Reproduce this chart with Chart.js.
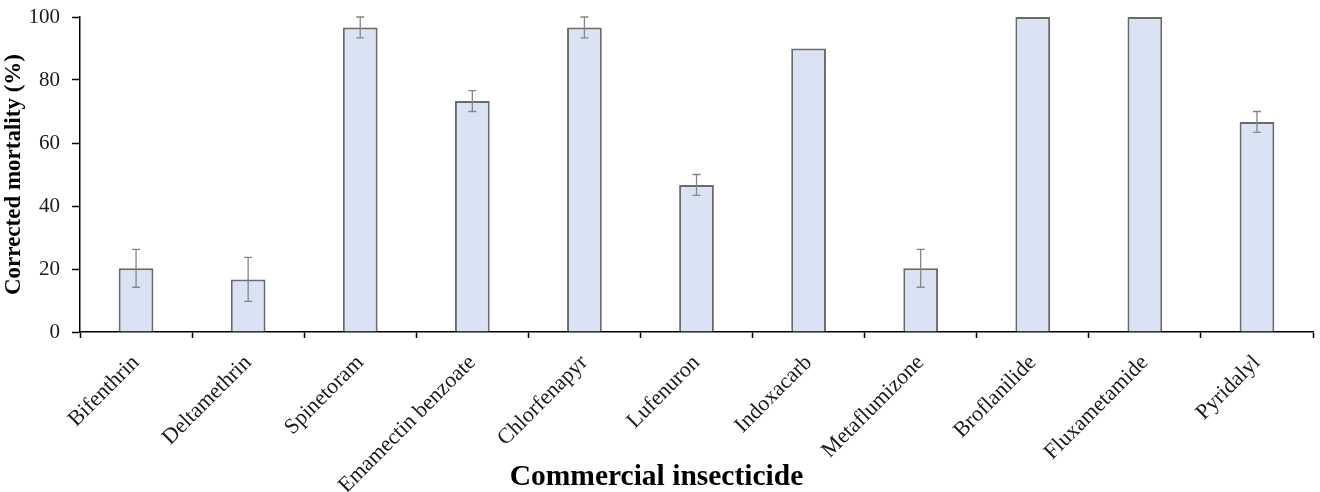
<!DOCTYPE html>
<html>
<head>
<meta charset="utf-8">
<title>Corrected mortality by commercial insecticide</title>
<script src="https://cdn.jsdelivr.net/npm/chart.js@4"></script>
<style>
  html, body { margin: 0; padding: 0; background: #fff; }
  .wrap { width: 1320px; height: 492px; }
</style>
</head>
<body>
<div class="wrap"><canvas id="mortalityChart"></canvas></div>
<script>
const categories = [
  "Bifenthrin", "Deltamethrin", "Spinetoram", "Emamectin benzoate", "Chlorfenapyr",
  "Lufenuron", "Indoxacarb", "Metaflumizone", "Broflanilide", "Fluxametamide", "Pyridalyl"
];
const mortality = [20.2, 16.7, 96.7, 73.3, 96.7, 46.7, 90, 20.2, 100, 100, 66.7];
const errors = [6, 7, 3.3, 3.3, 3.3, 3.3, 0, 6, 0, 0, 3.3];
const yTicks = [0, 20, 40, 60, 80, 100];

const serif = "'Liberation Serif', 'Times New Roman', serif";

// whiskers for the standard error, drawn from the y scale
const errorBars = {
  id: "errorBars",
  afterDatasetsDraw(chart) {
    const { ctx, scales } = chart;
    const meta = chart.getDatasetMeta(0);
    ctx.save();
    ctx.strokeStyle = "#858585";
    ctx.lineWidth = 1.3;
    meta.data.forEach((bar, i) => {
      const err = errors[i];
      if (!err) return;
      const top = scales.y.getPixelForValue(mortality[i] + err);
      const bottom = scales.y.getPixelForValue(mortality[i] - err);
      const x = bar.x;
      ctx.beginPath();
      ctx.moveTo(x, top);
      ctx.lineTo(x, bottom);
      ctx.moveTo(x - 4, top);
      ctx.lineTo(x + 4, top);
      ctx.moveTo(x - 4, bottom);
      ctx.lineTo(x + 4, bottom);
      ctx.stroke();
    });
    ctx.restore();
  }
};

// long rotated names run down past the axis box, like the original figure
const looseLabels = {
  id: "looseLabels",
  afterLayout(chart) {
    chart.scales.x.bottom = chart.height;
  }
};

new Chart(document.getElementById("mortalityChart"), {
  type: "bar",
  data: {
    labels: categories,
    datasets: [{
      label: "Corrected mortality (%)",
      data: mortality,
      backgroundColor: "#dae3f3",
      borderColor: "#6a6a6a",
      borderWidth: 2,
      barPercentage: 0.31,
      categoryPercentage: 1
    }]
  },
  options: {
    responsive: true,
    maintainAspectRatio: false,
    animation: false,
    layout: {
      padding: { top: 17, right: 7, left: 0, bottom: 0 }
    },
    plugins: {
      legend: { display: false },
      tooltip: { enabled: false },
      title: {
        display: true,
        position: "bottom",
        text: "Commercial insecticide",
        color: "#000",
        font: { family: serif, size: 29.5, weight: "bold", lineHeight: 1 },
        padding: { top: 8, bottom: 0 }
      }
    },
    scales: {
      x: {
        grid: {
          offset: true,
          drawOnChartArea: false,
          tickLength: 6,
          tickColor: "#000",
          tickWidth: 1.5
        },
        border: { color: "#000", width: 1.5 },
        ticks: {
          color: "#1a1a1a",
          font: { family: serif, size: 22 },
          minRotation: 45,
          maxRotation: 45,
          autoSkip: false,
          padding: 12
        },
        afterFit(scale) {
          scale.height = 122.5;
        }
      },
      y: {
        min: 0,
        max: 100,
        afterBuildTicks(scale) {
          scale.ticks = yTicks.map((value) => ({ value }));
        },
        grid: {
          drawOnChartArea: false,
          tickLength: 8,
          tickColor: "#000",
          tickWidth: 1.5
        },
        border: { color: "#000", width: 1.5 },
        ticks: {
          color: "#1a1a1a",
          font: { family: serif, size: 21 },
          padding: 12
        },
        title: {
          display: true,
          text: "Corrected mortality (%)",
          color: "#000",
          font: { family: serif, size: 23, weight: "bold" },
          padding: { top: 0, bottom: 0 }
        },
        afterFit(scale) {
          scale.width = 80;
          scale.paddingTop = 0;
          scale.paddingBottom = 0;
        }
      }
    }
  },
  plugins: [errorBars, looseLabels]
});
</script>
</body>
</html>
